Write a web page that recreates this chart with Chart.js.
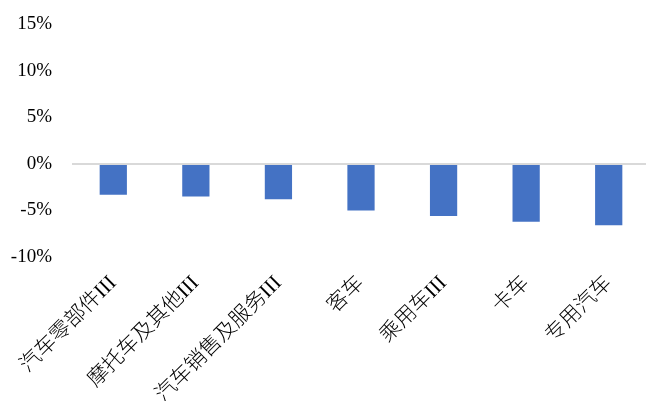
<!DOCTYPE html>
<html>
<head>
<meta charset="utf-8">
<script src="https://cdn.jsdelivr.net/npm/chart.js@4"></script>
<style>
    html, body { margin: 0; padding: 0; background: #fff; overflow: hidden; }
    #wrap { position: relative; width: 646px; height: 401px; overflow: hidden; }
    #wrap canvas { position: absolute; left: 0; top: -7px; }
</style>
</head>
<body>
<div id="wrap">
    <canvas id="bar_chart" width="650" height="408" style="width:650px;height:408px"></canvas>
</div>
<script>
// sector names and their change, in percent
var categories = ['汽车零部件III', '摩托车及其他III', '汽车销售及服务III', '客车', '乘用车III', '卡车', '专用汽车'];
var changes = [-3.3, -3.5, -3.8, -5.0, -5.6, -6.2, -6.6];
var y_ticks = [-10, -5, 0, 5, 10, 15];

var font_family = '"Liberation Serif", "Times New Roman", "Noto Sans CJK SC", serif';

window.onload = function() {
    const ctx = document.getElementById('bar_chart').getContext('2d');
    new Chart(ctx, {
        type: 'bar',
        data: {
            labels: categories,
            datasets: [{
                data: changes,
                backgroundColor: '#4472C4',
                borderWidth: 0,
                barPercentage: 0.33,
                categoryPercentage: 1.0
            }]
        },
        options: {
            responsive: false,
            animation: false,
            layout: { padding: 0 },
            plugins: {
                legend: { display: false },
                tooltip: { enabled: false }
            },
            scales: {
                x: {
                    grid: { display: false },
                    border: { display: false },
                    ticks: {
                        minRotation: 45,
                        maxRotation: 45,
                        autoSkip: false,
                        color: '#000',
                        padding: 6,
                        font: { family: font_family, size: 21, weight: 300 }
                    },
                    afterFit: function(axis) { axis.height = 144; }
                },
                y: {
                    min: y_ticks[0],
                    max: y_ticks[y_ticks.length - 1],
                    border: { display: false },
                    grid: {
                        drawTicks: false,
                        lineWidth: 2,
                        // only the zero line is drawn
                        color: function(c) { return c.tick && c.tick.value === 0 ? '#d9d9d9' : 'rgba(0,0,0,0)'; }
                    },
                    afterBuildTicks: function(axis) {
                        axis.ticks = y_ticks.map(function(v) { return { value: v }; });
                    },
                    ticks: {
                        color: '#000',
                        padding: 20,
                        font: { family: font_family, size: 19 },
                        callback: function(value) { return value + '%'; }
                    },
                    afterFit: function(axis) { axis.width = 72; }
                }
            }
        }
    });
};
</script>
</body>
</html>
